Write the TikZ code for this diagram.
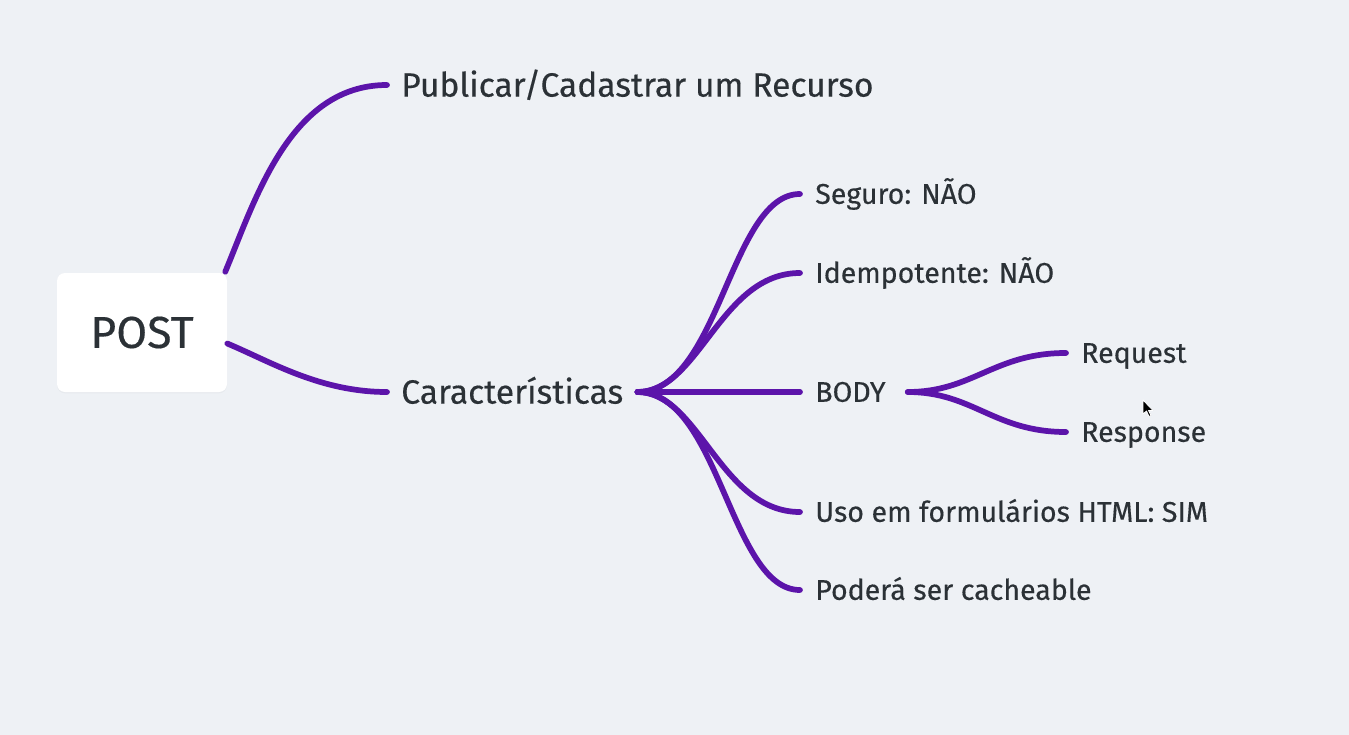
\documentclass[tikz,border=0pt]{standalone}
\usepackage{fontspec}
\setmainfont{Fira Sans}[FakeBold=0.35]
\usetikzlibrary{calc,shadows}
\definecolor{bg}{HTML}{EEF1F5}
\definecolor{branch}{HTML}{5C14AA}
\definecolor{ink}{HTML}{2B3136}
\begin{document}
\begin{tikzpicture}[x=0.75pt,y=-0.75pt,
  conn/.style={draw=branch, line width=4.3pt, line cap=round},
  maintopic/.style={font=\fontsize{25.2}{30}\selectfont, text=ink, inner xsep=10.5pt, inner ysep=0pt, text height=17.4pt, text depth=0pt, anchor=west},
  subtopic/.style={font=\fontsize{21.4}{26}\selectfont, text=ink, inner xsep=11.25pt, inner ysep=0pt, text height=14.7pt, text depth=0pt, anchor=west},
  rootbox/.style={rounded corners=6pt, fill=white, minimum width=127.5pt, minimum height=89.25pt, font=\fontsize{33.5}{40}\selectfont, text=ink, drop shadow={opacity=0.06, shadow xshift=0pt, shadow yshift=-1pt}}]
\useasboundingbox[fill=bg] (0,0) rectangle (1349,735);

\node[rootbox] (post) at (142,332.5) {POST};
\node[maintopic] (pub) at (387,85) {Publicar/Cadastrar um Recurso};
\node[maintopic] (car) at (387,392) {Características};
\node[subtopic] (seg) at (800,194) {Seguro: NÃO};
\node[subtopic] (idem) at (800,273) {Idempotente: NÃO};
\node[subtopic] (body) at (800,392) {BODY};
\node[subtopic] (uso) at (800,512) {Uso em formulários HTML: SIM};
\node[subtopic] (pod) at (800,590) {Poderá ser cacheable};
\node[subtopic] (req) at (1066,353) {Request};
\node[subtopic] (resp) at (1066,432) {Response};

\draw[conn] ($(post.north east)+(-2,-1)$) .. controls +(30,-72) and +(-97,0) .. (pub.west);
\draw[conn] ($(post.east)+(0,11)$) .. controls +(43,18) and +(-67,0) .. (car.west);

\draw[conn] (car.east) .. controls +(82,0) and +(-70,0) .. (seg.west);
\draw[conn] (car.east) .. controls +(62,0) and +(-80,0) .. (idem.west);
\draw[conn] (car.east) -- (body.west);
\draw[conn] (car.east) .. controls +(62,0) and +(-80,0) .. (uso.west);
\draw[conn] (car.east) .. controls +(82,0) and +(-70,0) .. (pod.west);

\draw[conn] ($(body.east)+(7,0)$) .. controls +(65,0) and +(-72,0) .. (req.west);
\draw[conn] ($(body.east)+(7,0)$) .. controls +(65,0) and +(-72,0) .. (resp.west);

\fill[black, draw=white, line width=0.6pt, line join=round] (1143,400) -- (1143,414) -- (1146.5,411) -- (1149,416.5) -- (1151,415.5) -- (1148.5,410.5) -- (1153,410.5) -- cycle;
\end{tikzpicture}
\end{document}
